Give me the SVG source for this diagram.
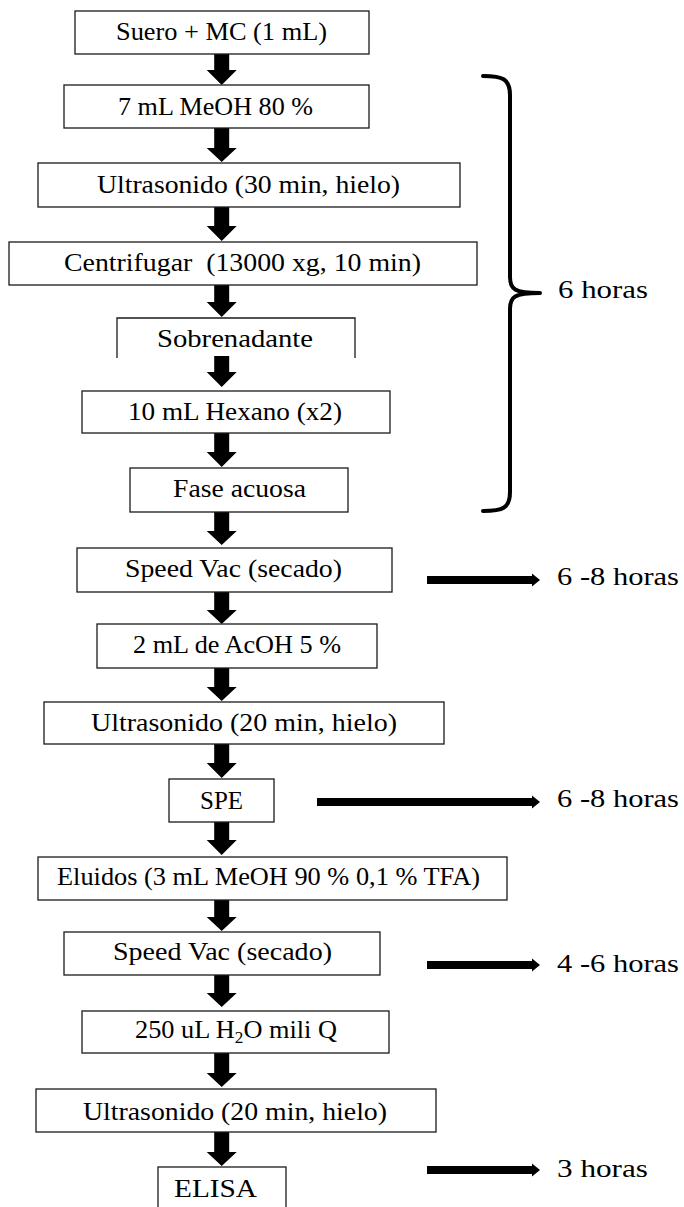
<svg xmlns="http://www.w3.org/2000/svg" width="684" height="1207" viewBox="0 0 684 1207">
<style>
.box{fill:#fff;stroke:#1a1a1a;stroke-width:1.3}
.open{fill:none;stroke:#1a1a1a;stroke-width:1.3}
.t{font-family:"Liberation Serif","Times New Roman",serif;font-size:26px;fill:#000;text-anchor:middle}
.lbl{font-family:"Liberation Serif","Times New Roman",serif;font-size:26px;fill:#000}
.arr{fill:#000}
.brace{fill:none;stroke:#000;stroke-width:4;stroke-linecap:round;stroke-linejoin:round}
</style>
<rect width="684" height="1207" fill="#fff"/>
<g id="connectors">
<polygon class="arr" points="214.2,54 229.2,54 229.2,70 236.7,70 221.7,85 206.7,70 214.2,70"/>
<polygon class="arr" points="214.2,128 229.2,128 229.2,148 236.7,148 221.7,162 206.7,148 214.2,148"/>
<polygon class="arr" points="214.2,207 229.2,207 229.2,226 236.7,226 221.7,241 206.7,226 214.2,226"/>
<polygon class="arr" points="214.2,285 229.2,285 229.2,302 236.7,302 221.7,317 206.7,302 214.2,302"/>
<polygon class="arr" points="214.2,356 229.2,356 229.2,372 236.7,372 221.7,387 206.7,372 214.2,372"/>
<polygon class="arr" points="214.2,433 229.2,433 229.2,452 236.7,452 221.7,467 206.7,452 214.2,452"/>
<polygon class="arr" points="214.2,512 229.2,512 229.2,531 236.7,531 221.7,545 206.7,531 214.2,531"/>
<polygon class="arr" points="214.2,592 229.2,592 229.2,610 236.7,610 221.7,624 206.7,610 214.2,610"/>
<polygon class="arr" points="214.2,668 229.2,668 229.2,687 236.7,687 221.7,701 206.7,687 214.2,687"/>
<polygon class="arr" points="214.2,744 229.2,744 229.2,763 236.7,763 221.7,778 206.7,763 214.2,763"/>
<polygon class="arr" points="214.2,822 229.2,822 229.2,840 236.7,840 221.7,855 206.7,840 214.2,840"/>
<polygon class="arr" points="214.2,900 229.2,900 229.2,917 236.7,917 221.7,931 206.7,917 214.2,917"/>
<polygon class="arr" points="214.2,975 229.2,975 229.2,993 236.7,993 221.7,1007 206.7,993 214.2,993"/>
<polygon class="arr" points="214.2,1053 229.2,1053 229.2,1073 236.7,1073 221.7,1087 206.7,1073 214.2,1073"/>
<polygon class="arr" points="214.2,1132 229.2,1132 229.2,1152 236.7,1152 221.7,1166 206.7,1152 214.2,1152"/>
<polygon class="arr" points="427,576 532,576 532,573.5 540,580 532,586.5 532,584 427,584"/>
<polygon class="arr" points="317,798 532,798 532,795.5 540,802 532,808.5 532,806 317,806"/>
<polygon class="arr" points="427,961 532,961 532,958.5 540,965 532,971.5 532,969 427,969"/>
<polygon class="arr" points="427,1166 532,1166 532,1163.5 540,1170 532,1176.5 532,1174 427,1174"/>
<path class="brace" d="M483,76 C503,76 510,79 510,95 L510,277 C510,289 514,293 540,293 C514,293 510,297 510,309 L510,492 C510,508 503,511 483,511"/>
</g>
<g id="n1"><rect class="box" x="75" y="11" width="294" height="43"/><text class="t" x="221.5" y="40" textLength="211" lengthAdjust="spacingAndGlyphs">Suero + MC (1 mL)</text></g>
<g id="n2"><rect class="box" x="64" y="85" width="305" height="43"/><text class="t" x="215.5" y="115" textLength="195" lengthAdjust="spacingAndGlyphs">7 mL MeOH 80 %</text></g>
<g id="n3"><rect class="box" x="38" y="163" width="422" height="44"/><text class="t" x="248.5" y="193" textLength="303" lengthAdjust="spacingAndGlyphs">Ultrasonido (30 min, hielo)</text></g>
<g id="n4"><rect class="box" x="9" y="242" width="468" height="43"/><text class="t" x="242.5" y="271" textLength="357" lengthAdjust="spacingAndGlyphs" xml:space="preserve">Centrifugar  (13000 xg, 10 min)</text></g>
<g id="n5"><path class="open" d="M117,358 L117,318 L355,318 L355,358"/><text class="t" x="235" y="347" textLength="156" lengthAdjust="spacingAndGlyphs">Sobrenadante</text></g>
<g id="n6"><rect class="box" x="82" y="391" width="308" height="42"/><text class="t" x="235" y="420" textLength="214" lengthAdjust="spacingAndGlyphs">10 mL Hexano (x2)</text></g>
<g id="n7"><rect class="box" x="130" y="468" width="218" height="44"/><text class="t" x="239.5" y="497" textLength="133" lengthAdjust="spacingAndGlyphs">Fase acuosa</text></g>
<g id="n8"><rect class="box" x="77" y="548" width="315" height="44"/><text class="t" x="233.5" y="577" textLength="217" lengthAdjust="spacingAndGlyphs">Speed Vac (secado)</text></g>
<g id="n9"><rect class="box" x="97" y="624" width="280" height="44"/><text class="t" x="237" y="653" textLength="208" lengthAdjust="spacingAndGlyphs">2 mL de AcOH 5 %</text></g>
<g id="n10"><rect class="box" x="44" y="702" width="400" height="42"/><text class="t" x="244" y="731" textLength="306" lengthAdjust="spacingAndGlyphs">Ultrasonido (20 min, hielo)</text></g>
<g id="n11"><rect class="box" x="169" y="779" width="105" height="43"/><text class="t" x="221.5" y="809" textLength="43" lengthAdjust="spacingAndGlyphs">SPE</text></g>
<g id="n12"><rect class="box" x="38" y="857" width="469" height="43"/><text class="t" x="268.5" y="885" textLength="423" lengthAdjust="spacingAndGlyphs">Eluidos (3 mL MeOH 90 % 0,1 % TFA)</text></g>
<g id="n13"><rect class="box" x="64" y="932" width="316" height="43"/><text class="t" x="222.5" y="960" textLength="219" lengthAdjust="spacingAndGlyphs">Speed Vac (secado)</text></g>
<g id="n14"><rect class="box" x="82" y="1011" width="307" height="42"/><text class="t" x="236" y="1038" textLength="202" lengthAdjust="spacingAndGlyphs">250 uL H<tspan font-size="17" dy="5">2</tspan><tspan dy="-5">O mili Q</tspan></text></g>
<g id="n15"><rect class="box" x="36" y="1089" width="400" height="43"/><text class="t" x="235" y="1120" textLength="304" lengthAdjust="spacingAndGlyphs">Ultrasonido (20 min, hielo)</text></g>
<g id="n16"><rect class="box" x="158" y="1167" width="128" height="45"/><text class="t" x="215.5" y="1197" textLength="83" lengthAdjust="spacingAndGlyphs">ELISA</text></g>
<g id="labels">
<text class="lbl" x="558" y="298" textLength="90" lengthAdjust="spacingAndGlyphs">6 horas</text>
<text class="lbl" x="557" y="585" textLength="122" lengthAdjust="spacingAndGlyphs">6 -8 horas</text>
<text class="lbl" x="557" y="807" textLength="122" lengthAdjust="spacingAndGlyphs">6 -8 horas</text>
<text class="lbl" x="557" y="972" textLength="122" lengthAdjust="spacingAndGlyphs">4 -6 horas</text>
<text class="lbl" x="557" y="1177" textLength="91" lengthAdjust="spacingAndGlyphs">3 horas</text>
</g>
</svg>
